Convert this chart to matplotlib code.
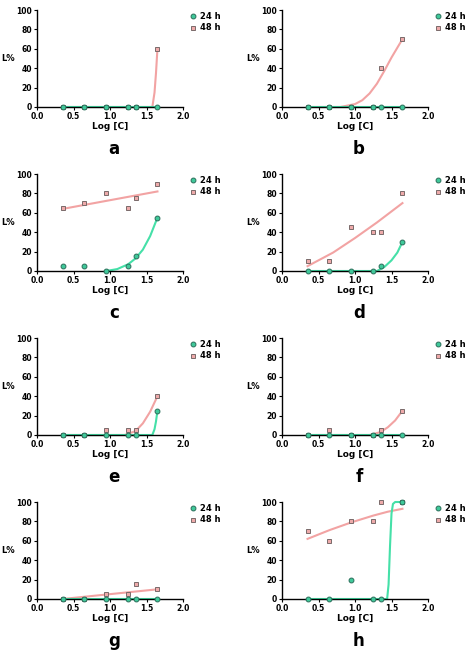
import matplotlib
matplotlib.use("Agg")
import matplotlib.pyplot as plt

x = [0.35, 0.65, 0.95, 1.25, 1.35, 1.65]
labels = ["a", "b", "c", "d", "e", "f", "g", "h"]
y24 = {
 "a": [0, 0, 0, 0, 0, 0], "b": [0, 0, 0, 0, 0, 0],
 "c": [5, 5, 0, 5, 15, 55], "d": [0, 0, 0, 0, 5, 30],
 "e": [0, 0, 0, 0, 0, 25], "f": [0, 0, 0, 0, 0, 0],
 "g": [0, 0, 0, 0, 0, 0], "h": [0, 0, 20, 0, 0, 100]}
y48 = {
 "a": [0, 0, 0, 0, 0, 60], "b": [0, 0, 0, 0, 40, 70],
 "c": [65, 70, 80, 65, 75, 90], "d": [10, 10, 45, 40, 40, 80],
 "e": [0, 0, 5, 5, 5, 40], "f": [0, 5, 0, 0, 5, 25],
 "g": [0, 0, 5, 5, 15, 10], "h": [70, 60, 80, 80, 100, 100]}
# fitted curves
c24 = {
 "a": ([0.35, 1.65], [0, 0]), "b": ([0.35, 1.65], [0, 0]),
 "c": ([0.95, 1.1, 1.25, 1.35, 1.45, 1.55, 1.65], [0, 2, 7, 13, 22, 36, 55]),
 "d": ([0.35, 1.3, 1.4, 1.5, 1.58, 1.65], [0, 0, 4, 11, 19, 30]),
 "e": ([0.35, 1.58, 1.61, 1.63, 1.65], [0, 0, 6, 14, 25]),
 "f": ([0.35, 1.65], [0, 0]), "g": ([0.35, 1.65], [0, 0]),
 "h": ([0.35, 1.44, 1.46, 1.48, 1.50, 1.52, 1.55, 1.65], [0, 0, 15, 55, 88, 98, 100, 100])}
c48 = {
 "a": ([0.35, 1.58, 1.61, 1.63, 1.65], [0, 0, 15, 35, 60]),
 "b": ([0.35, 0.8, 1.0, 1.1, 1.2, 1.3, 1.4, 1.5, 1.65], [0, 0, 3, 7, 14, 24, 37, 51, 70]),
 "c": ([0.35, 1.65], [64, 82]),
 "d": ([0.35, 0.7, 1.0, 1.3, 1.65], [5, 19, 34, 50, 70]),
 "e": ([0.35, 1.2, 1.35, 1.45, 1.55, 1.65], [0, 0, 4, 12, 24, 40]),
 "f": ([0.35, 1.2, 1.35, 1.45, 1.55, 1.65], [0, 0, 3, 8, 15, 25]),
 "g": ([0.35, 1.65], [0, 10]),
 "h": ([0.35, 0.65, 0.95, 1.25, 1.45, 1.65], [62, 71, 79, 86, 90, 93])}

G_LINE = "#45e0a8"; G_FILL = "#3fc99a"; G_EDGE = "#2a6e5a"
P_LINE = "#f2a3a3"; P_FILL = "#eeaaaa"; P_EDGE = "#7a6a6a"

fig = plt.figure(figsize=(4.74, 6.60), dpi=100)
W, H = 474, 660
for i, lab in enumerate(labels):
    r, c = divmod(i, 2)
    left = 37 if c == 0 else 282
    top = 10 + r * 164
    ax = fig.add_axes([left / W, 1 - (top + 97) / H, 146 / W, 97 / H])
    ax.plot(*c48[lab], color=P_LINE, lw=1.5, zorder=2)
    ax.plot(*c24[lab], color=G_LINE, lw=1.5, zorder=2)
    ax.plot(x, y48[lab], "s", ms=3.5, mfc=P_FILL, mec=P_EDGE, mew=0.7, ls="none", label="48 h", zorder=3)
    ax.plot(x, y24[lab], "o", ms=3.5, mfc=G_FILL, mec=G_EDGE, mew=0.7, ls="none", label="24 h", zorder=4)
    ax.set_xlim(0, 2.0); ax.set_ylim(0, 100)
    ax.set_xticks([0, 0.5, 1.0, 1.5, 2.0]); ax.set_yticks([0, 20, 40, 60, 80, 100])
    ax.set_xticklabels(["0.0", "0.5", "1.0", "1.5", "2.0"])
    for s in ["top", "right"]:
        ax.spines[s].set_visible(False)
    for s in ["left", "bottom"]:
        ax.spines[s].set_linewidth(1.0)
    ax.tick_params(labelsize=5.5, length=2.5, width=0.8, pad=1)
    for t in ax.get_xticklabels() + ax.get_yticklabels():
        t.set_fontweight("bold")
    ax.set_xlabel("Log [C]", fontsize=6.5, fontweight="bold", labelpad=1)
    ax.set_ylabel("L%", fontsize=6, fontweight="bold", rotation=0, ha="center", va="center")
    ax.yaxis.set_label_coords(-0.2, 0.5)
    for ln in ax.lines:
        ln.set_clip_on(False)
    h, l = ax.get_legend_handles_labels()
    ax.legend(h[::-1], l[::-1], loc="upper left", bbox_to_anchor=(1.0, 1.04), frameon=False,
              prop={"size": 6, "weight": "bold"}, handletextpad=0.3, labelspacing=0.3,
              handlelength=1.0, borderpad=0.2)
    fig.text((left + 73 + 4) / W, 1 - (top + 139) / H, lab, fontsize=12, fontweight="bold",
             ha="center", va="center")
fig.savefig("out.png", dpi=100)
